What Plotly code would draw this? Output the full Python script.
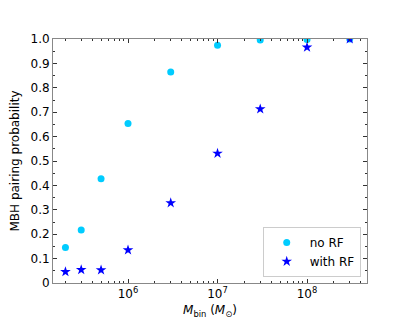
import plotly.graph_objects as go

mbin = [2e5, 3e5, 5e5, 1e6, 3e6, 1e7, 3e7, 1e8, 3e8]
p_no_rf = [0.145, 0.217, 0.427, 0.654, 0.865, 0.974, 0.996, 0.998, 1.0]
p_with_rf = [0.046, 0.054, 0.053, 0.135, 0.328, 0.531, 0.713, 0.966, 1.0]

ytick_vals = [0, 0.1, 0.2, 0.3, 0.4, 0.5, 0.6, 0.7, 0.8, 0.9, 1.0]
ytick_text = ["0", "0.1", "0.2", "0.3", "0.4", "0.5", "0.6", "0.7", "0.8", "0.9", "1.0"]
xtick_vals = [1e6, 1e7, 1e8]
xtick_text = ["10<sup>6</sup>", "10<sup>7</sup>", "10<sup>8</sup>"]

fig = go.Figure()
fig.add_trace(go.Scatter(x=mbin, y=p_no_rf, mode="markers", name="no RF",
                         marker=dict(symbol="circle", size=7, color="#00ccff")))
fig.add_trace(go.Scatter(x=mbin, y=p_with_rf, mode="markers", name="with RF",
                         marker=dict(symbol="star", size=8, color="#0000ff")))

axis_common = dict(showline=True, linecolor="#888888", linewidth=1, mirror="allticks",
                   ticks="inside", tickcolor="#333333", ticklen=4, showgrid=False,
                   zeroline=False, tickfont=dict(size=12, color="#000000"))

fig.update_layout(
    width=407, height=319,
    margin=dict(l=45, r=48, t=31, b=38),
    paper_bgcolor="white", plot_bgcolor="white",
    font=dict(family="DejaVu Sans", size=12, color="#000000"),
    showlegend=True,
    legend=dict(x=0.98, y=0.025, xanchor="right", yanchor="bottom",
                bordercolor="#cccccc", borderwidth=1, bgcolor="rgba(255,255,255,0.8)",
                itemwidth=36, tracegroupgap=0,
                font=dict(size=12)),
    xaxis=dict(type="log", range=[5.162, 8.67], tickvals=xtick_vals, ticktext=xtick_text,
               title=dict(text="<i>M</i><sub>bin</sub> (<i>M</i><sub>⊙</sub>)", standoff=5,
                          font=dict(size=12)),
               minor=dict(ticks="inside", ticklen=2, tickcolor="#333333",
                          tickvals=[k * 10 ** e for e in range(5, 9) for k in range(2, 10)]),
               **axis_common),
    yaxis=dict(range=[0, 1.0], tickvals=ytick_vals, ticktext=ytick_text, automargin=False,
               title=dict(text="MBH pairing probability", standoff=10, font=dict(size=12)),
               minor=dict(ticks="inside", ticklen=2, tickcolor="#333333", dtick=0.05),
               **axis_common),
)

fig.write_html("out.html")
